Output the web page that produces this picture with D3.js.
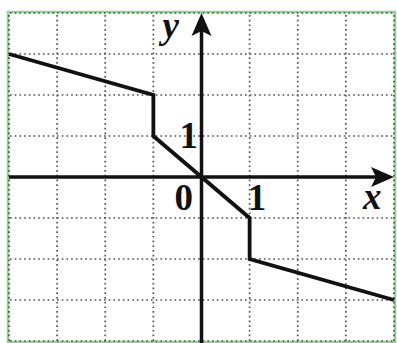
<!DOCTYPE html>
<html>
<head>
<meta charset="utf-8">
<script src="https://cdn.jsdelivr.net/npm/d3@7"></script>
<style>
  html, body { margin: 0; padding: 0; background: #fff; }
  svg { display: block; }
  .lbl { font-family: "Liberation Serif", "DejaVu Serif", serif; font-weight: bold; fill: #111; }
</style>
</head>
<body>
<svg id="chart" width="397" height="343"></svg>
<script>
// Grid spans -4..4 on both axes
const xTicks = [-4, -3, -2, -1, 0, 1, 2, 3, 4];
const yTicks = [-4, -3, -2, -1, 0, 1, 2, 3, 4];

// Vertices of the piecewise-linear graph (vertical jumps at x = -1 and x = 1)
const graphX = [-4, -1, -1, 1, 1, 4];
const graphY = [3, 2, 1, -1, -2, -3];

// Unit labels on the axes
const unitLabels = [
  { text: "1", x: 0, y: 1, dx: -22, dy: 12 },
  { text: "0", x: 0, y: 0, dx: -27, dy: 33 },
  { text: "1", x: 1, y: 0, dx: -2, dy: 33 }
];

const svg = d3.select("#chart");
const x = d3.scaleLinear().domain([-4, 4]).range([9, 394]);
const y = d3.scaleLinear().domain([-4, 4]).range([341, 13]);

// Frame
svg.append("rect")
  .attr("x", x(-4) - 1).attr("y", y(4) - 1)
  .attr("width", x(4) - x(-4) + 2).attr("height", y(-4) - y(4) + 2)
  .attr("fill", "none").attr("stroke", "#8fd48f").attr("stroke-width", 2.5);

// Dotted grid
const grid = svg.append("g")
  .attr("stroke", "#555").attr("stroke-width", 1.7)
  .attr("stroke-dasharray", "1.7,3");
grid.selectAll("line.v").data(xTicks.filter(d => d !== 0)).join("line")
  .attr("class", "v")
  .attr("x1", d => x(d)).attr("x2", d => x(d))
  .attr("y1", y(4) + 2).attr("y2", y(-4));
grid.selectAll("line.h").data(yTicks.filter(d => d !== 0)).join("line")
  .attr("class", "h")
  .attr("x1", x(-4) + 1).attr("x2", x(4))
  .attr("y1", d => y(d)).attr("y2", d => y(d));

// Axes with arrowheads
const axes = svg.append("g");
axes.append("line")
  .attr("x1", x(-4)).attr("x2", x(4) - 12)
  .attr("y1", y(0)).attr("y2", y(0))
  .attr("stroke", "#111").attr("stroke-width", 3.5);
axes.append("line")
  .attr("x1", x(0)).attr("x2", x(0))
  .attr("y1", 343).attr("y2", y(4) + 12)
  .attr("stroke", "#111").attr("stroke-width", 3.5);
const xa = x(4), ya = y(0);
axes.append("path")
  .attr("d", `M${xa},${ya} L${xa - 23},${ya - 10} L${xa - 18},${ya} L${xa - 23},${ya + 10} Z`)
  .attr("fill", "#111");
const xb = x(0), yb = y(4);
axes.append("path")
  .attr("d", `M${xb},${yb} L${xb - 10},${yb + 23} L${xb},${yb + 18} L${xb + 10},${yb + 23} Z`)
  .attr("fill", "#111");

// Graph of the function
const pts = graphX.map((d, i) => [d, graphY[i]]);
svg.append("path")
  .datum(pts)
  .attr("d", d3.line().x(d => x(d[0])).y(d => y(d[1])))
  .attr("fill", "none").attr("stroke", "#111").attr("stroke-width", 3.8)
  .attr("stroke-linejoin", "miter");

// Labels
svg.selectAll("text.unit").data(unitLabels).join("text")
  .attr("class", "unit lbl")
  .attr("x", d => x(d.x) + d.dx).attr("y", d => y(d.y) + d.dy)
  .attr("font-size", 37)
  .text(d => d.text);

svg.append("text").attr("class", "lbl")
  .attr("x", x(0) - 39).attr("y", y(4) + 25)
  .attr("font-size", 37).attr("font-style", "italic")
  .text("y");
svg.append("text").attr("class", "lbl")
  .attr("x", x(4) - 31).attr("y", y(0) + 32)
  .attr("font-size", 37).attr("font-style", "italic")
  .text("x");
</script>
</body>
</html>
